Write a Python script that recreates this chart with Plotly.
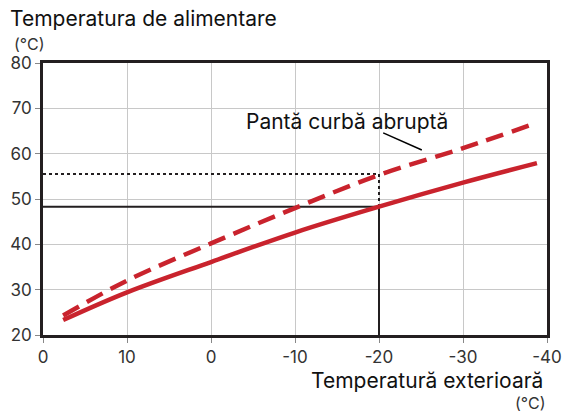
import plotly.graph_objects as go

# Data
outdoor = [17.6, 10, 0, -10, -20, -30, -38.8]
normal_curve = [23.3, 29.4, 36.1, 42.6, 48.3, 53.6, 57.9]
steep_curve = [24.3, 32.0, 40.2, 48.0, 55.3, 61.2, 66.8]
x_ticks = [20, 10, 0, -10, -20, -30, -40]
x_tick_labels = ["0", "10", "0", "-10", "-20", "-30", "-40"]
y_ticks = [20, 30, 40, 50, 60, 70, 80]
ref_outdoor = -20
ref_normal = 48.3
ref_steep = 55.5
label_steep = "Pantă curbă abruptă"

RED = "#c9232d"
DARK = "#231f20"
FONT = "Inter"

fig = go.Figure()

# reference lines
fig.add_trace(go.Scatter(x=[20, ref_outdoor, ref_outdoor], y=[ref_steep, ref_steep, ref_normal],
                         mode="lines", line=dict(color=DARK, width=2, dash="3px,3px"),
                         hoverinfo="skip", showlegend=False))
fig.add_trace(go.Scatter(x=[20, ref_outdoor, ref_outdoor], y=[ref_normal, ref_normal, 20],
                         mode="lines", line=dict(color=DARK, width=2),
                         hoverinfo="skip", showlegend=False))

fig.add_trace(go.Scatter(x=outdoor, y=normal_curve, mode="lines",
                         line=dict(color=RED, width=4.5, shape="spline"),
                         showlegend=False))
fig.add_trace(go.Scatter(x=outdoor, y=steep_curve, mode="lines",
                         line=dict(color=RED, width=4.5, shape="spline", dash="18px,9px"),
                         showlegend=False))

# leader line for label
fig.add_trace(go.Scatter(x=[-20.5, -25.1], y=[64.6, 60.8], mode="lines",
                         line=dict(color="black", width=1.5),
                         hoverinfo="skip", showlegend=False))

fig.add_annotation(x=-3.9, y=67.0, xref="x", yref="y", text=label_steep, showarrow=False,
                   xanchor="left", yanchor="middle", font=dict(family=FONT, size=21, color="#111"))

fig.add_annotation(x=-0.0694, y=1.165, xref="paper", yref="paper", text="Temperatura de alimentare",
                   showarrow=False, xanchor="left", yanchor="middle",
                   font=dict(family=FONT, size=21, color="#111"))
fig.add_annotation(x=-0.062, y=1.07, xref="paper", yref="paper", text="(°C)",
                   showarrow=False, xanchor="left", yanchor="middle",
                   font=dict(family=FONT, size=16, color="#333"))
fig.add_annotation(x=0.996, y=-0.169, xref="paper", yref="paper", text="Temperatură exterioară",
                   showarrow=False, xanchor="right", yanchor="middle",
                   font=dict(family=FONT, size=21, color="#111"))
fig.add_annotation(x=1.0, y=-0.25, xref="paper", yref="paper", text="(°C)",
                   showarrow=False, xanchor="right", yanchor="middle",
                   font=dict(family=FONT, size=16, color="#333"))

fig.update_xaxes(range=[20, -40], tickvals=x_ticks, ticktext=x_tick_labels,
                 showgrid=True, gridcolor="#c8c8c8", gridwidth=1,
                 showline=True, linecolor=DARK, linewidth=2.5, mirror=True,
                 ticks="outside", ticklen=5, tickcolor="#888", zeroline=False,
                 automargin=False,
                 tickfont=dict(family=FONT, size=17, color="#333"))
fig.update_yaxes(range=[20, 80], tickvals=y_ticks,
                 showgrid=True, gridcolor="#c8c8c8", gridwidth=1,
                 showline=True, linecolor=DARK, linewidth=2.5, mirror=True,
                 ticks="outside", ticklen=5, tickcolor="#888", zeroline=False,
                 automargin=False,
                 tickfont=dict(family=FONT, size=17, color="#333"))

fig.update_layout(width=563, height=412, margin=dict(l=43, r=16, t=63, b=77, autoexpand=False),
                  plot_bgcolor="white", paper_bgcolor="white")

# remove the default 8px page margin so the figure fills the window exactly
fig.write_html("out.html", config={"displayModeBar": False},
               post_script="document.body.style.margin='0';document.body.style.overflow='hidden';")
